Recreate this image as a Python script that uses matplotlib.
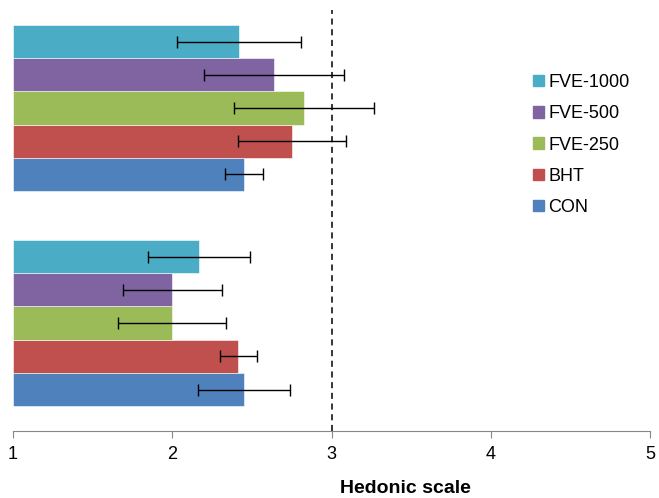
import numpy as np
import matplotlib.pyplot as plt
from matplotlib.patches import Patch

plt.rcParams["font.family"] = ["Liberation Sans", "DejaVu Sans"]

# two groups, bottom group first (Excel draws categories bottom-up)
group_pos = [0, 1]

series = ["CON", "BHT", "FVE-250", "FVE-500", "FVE-1000"]
colors = ["#4F81BD", "#C0504D", "#9BBB59", "#8064A2", "#4BACC6"]

con = [2.45, 2.45]
bht = [2.415, 2.75]
fve250 = [2.0, 2.83]
fve500 = [2.0, 2.64]
fve1000 = [2.17, 2.42]

con_err = [0.29, 0.12]
bht_err = [0.115, 0.34]
fve250_err = [0.34, 0.44]
fve500_err = [0.31, 0.44]
fve1000_err = [0.32, 0.39]

values = [con, bht, fve250, fve500, fve1000]
errors = [con_err, bht_err, fve250_err, fve500_err, fve1000_err]

fig = plt.figure(figsize=(6.59, 4.98), dpi=100)
ax = fig.add_axes([13 / 659, 67 / 498, 637 / 659, 421 / 498])

h = 0.1545
for i, (vals, errs) in enumerate(zip(values, errors)):
    y = np.array(group_pos) + (i - 2) * h
    vals = np.array(vals)
    ax.barh(y, vals - 1, left=1, height=h, color=colors[i],
            edgecolor="white", linewidth=0.4)
    ax.errorbar(vals, y, xerr=errs, fmt="none", ecolor="black",
                elinewidth=1, capsize=4, capthick=1)

# reference line at the neutral point of the scale
ax.axvline(3, color="black", linestyle=(0, (4, 3)), linewidth=1.1)

ax.set_xlim(1, 5)
ax.set_ylim(-0.502, 1.456)
ax.set_xticks([1, 2, 3, 4, 5])
ax.set_yticks([])
for s in ["left", "right", "top"]:
    ax.spines[s].set_visible(False)
ax.spines["bottom"].set_color("#868686")
ax.tick_params(axis="x", direction="out", length=5, color="#868686",
               labelsize=13, pad=6)

fig.text(405 / 659, 5 / 498, "Hedonic scale", ha="center", va="baseline",
         fontsize=14, fontweight="bold")

handles = [Patch(color=colors[i], label=series[i]) for i in range(4, -1, -1)]
ax.legend(handles=handles, loc="upper left", frameon=False,
          bbox_to_anchor=(533 / 659, (498 - 74) / 498),
          bbox_transform=fig.transFigure, borderpad=0, borderaxespad=0,
          fontsize=13, handlelength=0.6, handleheight=0.6,
          handletextpad=0.25, labelspacing=0.79)

fig.savefig("out.png", dpi=100)
